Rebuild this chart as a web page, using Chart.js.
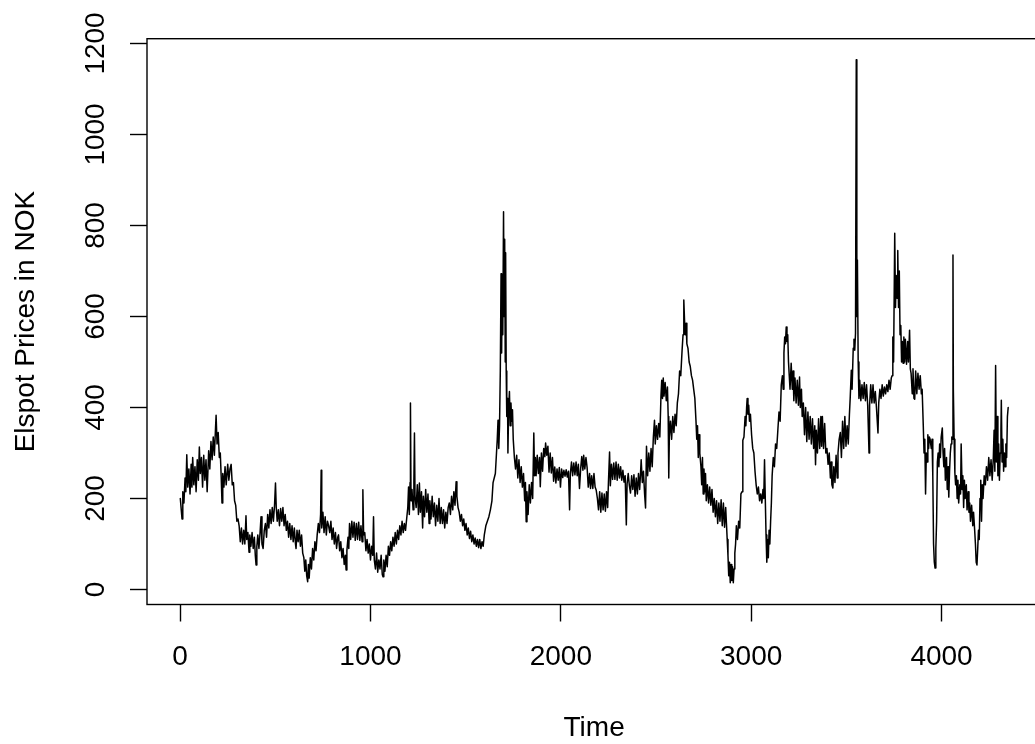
<!DOCTYPE html>
<html>
<head>
<meta charset="utf-8">
<script src="https://cdn.jsdelivr.net/npm/chart.js@4.4.1/dist/chart.umd.min.js"></script>
<style>
html, body { margin:0; padding:0; background:#ffffff; overflow:hidden; width:1035px; height:744px; }
#wrap { position:absolute; left:0; top:0; width:1060px; height:744px; }
</style>
</head>
<body>
<div id="wrap"><canvas id="c" width="1060" height="744"></canvas></div>
<script>
// ---- data ----
const timeIndex = [
1,6,10,14,20,26,30,35,40,46,
52,58,62,66,72,78,84,90,96,101,
106,112,118,124,130,136,142,150,156,162,
168,174,180,186,189,194,200,206,211,216,
220,224,230,236,242,250,256,262,268,274,
280,286,292,298,304,310,316,322,328,334,
340,346,350,356,362,366,372,378,384,390,
395,399,403,408,414,420,425,430,436,442,
448,454,460,466,472,478,484,490,496,501,
505,510,516,522,528,534,540,546,552,558,
564,570,576,582,588,594,600,606,609,614,
620,626,632,638,644,650,655,660,665,670,
674,678,684,690,696,702,708,714,720,726,
732,738,741,744,750,756,762,768,774,780,
786,792,798,804,810,816,822,828,832,838,
844,850,856,862,868,872,876,882,886,890,
896,902,908,914,920,926,932,938,944,950,
956,960,964,970,976,982,988,994,1000,1006,
1012,1016,1020,1026,1032,1038,1044,1050,1056,1062,
1066,1070,1076,1082,1088,1094,1100,1106,1112,1118,
1124,1130,1136,1142,1148,1154,1160,1166,1172,1178,
1184,1190,1196,1200,1204,1208,1210,1213,1218,1224,
1228,1231,1234,1240,1246,1252,1257,1262,1268,1274,
1278,1284,1290,1296,1302,1308,1312,1318,1324,1330,
1336,1342,1348,1354,1360,1366,1372,1378,1384,1390,
1396,1402,1408,1414,1420,1426,1432,1438,1444,1450,
1454,1460,1466,1472,1478,1484,1490,1496,1502,1508,
1514,1520,1526,1532,1538,1544,1550,1556,1562,1568,
1574,1580,1586,1592,1598,1606,1614,1622,1630,1638,
1644,1650,1656,1662,1666,1670,1674,1678,1682,1686,
1689,1692,1695,1699,1702,1705,1708,1710,1713,1716,
1720,1722,1726,1730,1734,1738,1742,1746,1750,1756,
1762,1768,1774,1780,1786,1792,1798,1804,1810,1814,
1818,1822,1828,1834,1840,1846,1852,1858,1862,1866,
1870,1876,1882,1888,1892,1898,1904,1910,1916,1920,
1926,1932,1938,1944,1950,1956,1962,1968,1974,1980,
1986,1992,1998,2004,2010,2016,2022,2028,2034,2040,
2046,2050,2056,2062,2068,2074,2080,2086,2092,2098,
2104,2110,2116,2120,2126,2132,2138,2144,2151,2156,
2162,2168,2174,2180,2186,2192,2198,2204,2210,2216,
2222,2228,2234,2240,2246,2250,2256,2260,2266,2272,
2278,2284,2290,2296,2302,2308,2314,2320,2326,2332,
2338,2344,2348,2354,2360,2366,2372,2378,2384,2390,
2396,2402,2408,2414,2418,2422,2428,2434,2440,2445,
2450,2456,2462,2468,2474,2480,2486,2492,2496,2502,
2508,2514,2520,2526,2530,2534,2538,2542,2548,2554,
2560,2564,2567,2570,2576,2582,2588,2594,2600,2606,
2612,2618,2624,2630,2637,2642,2646,2650,2654,2658,
2662,2668,2674,2680,2686,2692,2698,2704,2710,2714,
2718,2722,2726,2730,2736,2740,2744,2748,2752,2756,
2760,2764,2770,2776,2782,2788,2794,2800,2806,2812,
2818,2824,2830,2836,2842,2848,2854,2860,2866,2870,
2874,2878,2882,2886,2890,2894,2898,2902,2906,2910,
2914,2918,2922,2928,2934,2940,2946,2952,2956,2962,
2968,2972,2976,2979,2983,2987,2991,2996,3002,3008,
3014,3020,3026,3032,3038,3044,3050,3056,3062,3066,
3070,3074,3078,3082,3086,3090,3094,3098,3102,3106,
3110,3116,3122,3128,3134,3140,3146,3152,3158,3164,
3168,3172,3176,3180,3184,3188,3192,3196,3200,3204,
3210,3216,3220,3224,3230,3236,3242,3248,3254,3258,
3264,3268,3274,3280,3286,3292,3298,3304,3310,3316,
3322,3328,3334,3338,3342,3348,3354,3360,3366,3370,
3374,3380,3386,3392,3398,3404,3410,3416,3420,3424,
3429,3434,3440,3446,3452,3456,3462,3468,3474,3480,
3486,3492,3498,3504,3510,3516,3520,3526,3530,3536,
3540,3544,3548,3552,3555,3558,3562,3566,3570,3576,
3582,3588,3594,3600,3606,3612,3619,3622,3628,3634,
3640,3646,3652,3658,3666,3670,3676,3682,3688,3694,
3700,3706,3712,3718,3724,3730,3736,3740,3744,3748,
3754,3758,3762,3766,3770,3774,3778,3782,3786,3790,
3794,3798,3802,3806,3810,3816,3822,3826,3832,3836,
3840,3846,3850,3855,3859,3864,3870,3876,3882,3888,
3894,3898,3904,3908,3912,3916,3920,3924,3928,3932,
3936,3940,3946,3950,3954,3958,3962,3966,3970,3974,
3978,3982,3986,3990,3994,3998,4004,4008,4012,4016,
4020,4026,4030,4034,4038,4042,4046,4050,4054,4058,
4060,4062,4066,4070,4074,4078,4082,4086,4090,4096,
4100,4103,4108,4112,4116,4120,4124,4130,4134,4140,
4144,4148,4152,4158,4164,4168,4174,4178,4182,4186,
4190,4194,4198,4202,4206,4210,4214,4218,4224,4230,
4236,4242,4248,4254,4260,4266,4272,4276,4280,4284,
4288,4292,4296,4300,4304,4308,4312,4314,4318,4322,
4326,4330,4334,4338,4342,4346,4350
];
const priceNOK = [
200,175,155,215,190,245,215,296,225,265,
210,275,225,290,230,270,215,285,240,313,
255,290,225,295,240,285,215,305,265,325,
285,335,295,355,383,320,345,290,300,245,
190,255,225,270,230,275,240,265,275,230,
235,195,185,150,155,140,105,135,100,130,
100,162,110,125,82,120,95,125,90,115,
75,54,95,120,90,125,160,100,90,130,
145,115,165,135,175,145,180,150,185,234,
180,150,175,140,178,150,180,140,165,130,
150,115,145,110,140,105,135,100,90,130,
105,130,95,120,80,70,40,65,30,17,
55,25,70,45,90,65,105,85,120,145,
125,165,262,135,170,125,160,120,150,140,
125,150,110,135,100,125,90,115,120,85,
105,70,90,55,75,43,85,115,90,145,
110,150,115,148,108,145,110,148,108,140,
105,219,120,125,85,110,80,100,65,95,
75,160,65,45,80,38,65,45,75,33,
28,65,40,75,50,95,75,105,85,115,
95,125,100,130,110,140,120,150,125,145,
130,155,180,225,165,235,410,195,220,175,
235,344,205,180,230,165,234,170,215,135,
205,160,220,170,210,145,195,155,205,160,
190,140,185,150,200,145,180,145,175,135,
170,145,180,190,165,205,175,215,185,237,
205,180,170,150,165,140,155,130,145,120,
135,112,128,105,120,100,113,95,110,92,
110,90,105,95,120,140,150,160,175,195,
235,245,255,300,330,372,310,360,480,694,
520,690,560,830,600,770,500,740,480,380,
420,300,400,435,360,410,370,395,330,290,
265,295,245,285,235,270,225,255,195,235,
149,215,165,230,190,235,200,344,250,290,
250,295,255,290,226,300,260,310,292,322,
295,315,258,300,256,290,238,269,234,265,
240,268,225,265,246,262,249,263,247,260,
175,255,280,250,278,252,280,250,275,222,
265,292,262,295,265,290,268,225,255,222,
250,222,255,225,218,200,175,215,170,212,
175,210,172,215,180,235,302,228,275,242,
278,242,280,240,275,245,270,240,262,236,
250,142,232,255,228,212,250,220,252,205,
245,210,255,220,250,285,235,260,210,179,
315,250,300,260,310,270,335,372,320,360,
330,365,335,425,460,420,465,425,455,415,
445,380,245,335,370,330,380,345,385,360,
410,430,480,470,526,560,636,590,560,585,
540,530,500,490,470,460,440,420,370,330,
360,290,340,300,270,230,290,210,265,215,
255,195,230,190,225,185,220,170,200,160,
195,145,190,150,197,140,190,137,180,145,
110,75,30,60,15,55,20,50,15,45,
80,100,140,110,150,135,210,215,328,335,
380,360,400,420,385,405,370,385,340,310,
300,260,230,210,225,195,210,190,220,200,
285,200,120,60,110,70,130,100,150,190,
250,290,270,320,310,350,390,370,450,470,
440,520,555,540,577,545,560,500,470,440,
497,440,480,415,465,410,460,405,467,400,
440,380,410,340,400,325,390,330,380,320,
375,310,360,274,350,300,375,310,380,315,
380,310,365,300,310,275,300,245,280,230,
223,270,235,295,245,300,330,345,290,370,
310,380,315,360,320,385,420,482,440,530,
550,526,563,1164,600,724,500,420,460,415,
450,420,455,415,450,405,300,405,450,410,
450,410,435,400,344,410,440,420,450,425,
445,430,450,435,460,440,465,470,555,500,
783,620,690,640,745,620,700,560,580,500,
545,497,555,500,550,495,545,500,570,485,
475,430,485,420,418,480,430,475,440,470,
430,440,360,300,330,210,300,280,340,310,
335,330,310,330,250,100,60,47,90,150,
280,300,270,320,290,335,355,300,270,310,
240,290,220,270,203,260,300,320,335,330,
735,440,330,256,230,250,200,240,190,230,
210,320,220,250,180,240,200,230,175,215,
170,190,150,185,140,170,130,100,60,54,
90,130,110,200,240,150,230,200,250,230,
270,240,290,250,285,240,290,350,260,492,
280,380,250,320,240,300,350,416,280,330,
260,300,270,320,290,380,400
];
const xTickValues = [0, 1000, 2000, 3000, 4000];
const yTickValues = [0, 200, 400, 600, 800, 1000, 1200];
const xAxisTitle = 'Time';
const yAxisTitle = 'Elspot Prices in NOK';

if (timeIndex.length !== priceNOK.length) console.error('length mismatch', timeIndex.length, priceNOK.length);

const points = timeIndex.map((t, i) => ({ x: t, y: priceNOK[i] }));
const FONT = { family: '"Liberation Sans", Arial, sans-serif', size: 28, weight: 'normal' };

const boxPlugin = {
  id: 'rbox',
  afterDraw(chart) {
    const { ctx, chartArea: a } = chart;
    ctx.save();
    ctx.strokeStyle = '#000';
    ctx.lineWidth = 1.4;
    ctx.strokeRect(a.left, a.top, a.right - a.left, a.bottom - a.top);
    ctx.restore();
  }
};

const gridOpts = { drawOnChartArea: false, drawTicks: true, tickLength: 17, tickColor: '#000', tickWidth: 1.4 };

new Chart(document.getElementById('c'), {
  type: 'line',
  data: {
    datasets: [{
      data: points,
      borderColor: '#000',
      borderWidth: 1.5,
      pointRadius: 0,
      tension: 0,
      fill: false,
      borderJoinStyle: 'round',
      borderCapStyle: 'round'
    }]
  },
  options: {
    responsive: false,
    animation: false,
    devicePixelRatio: 1,
    layout: { padding: { left: 0, top: 38.7, right: 18.7, bottom: 0 } },
    plugins: { legend: { display: false }, tooltip: { enabled: false } },
    scales: {
      x: {
        type: 'linear',
        min: -174,
        max: 4524,
        afterBuildTicks(s) { s.ticks = xTickValues.map(v => ({ value: v })); },
        afterFit(s) { s.height = 139.5; },
        grid: gridOpts,
        border: { display: false },
        ticks: { color: '#000', font: FONT, padding: 19, maxRotation: 0, autoSkip: false, callback: v => String(v) },
        title: { display: true, text: xAxisTitle, color: '#000', font: FONT, padding: { top: 0, bottom: -1 } }
      },
      y: {
        type: 'linear',
        min: -33,
        max: 1210.5,
        afterBuildTicks(s) { s.ticks = yTickValues.map(v => ({ value: v })); },
        afterFit(s) { s.width = 147; },
        grid: gridOpts,
        border: { display: false },
        ticks: { color: '#000', font: FONT, padding: 3, minRotation: 90, maxRotation: 90, crossAlign: 'center', autoSkip: false, callback: v => String(v) },
        title: { display: true, text: yAxisTitle, color: '#000', font: FONT, padding: { top: 9, bottom: 0 } }
      }
    }
  },
  plugins: [boxPlugin]
});
</script>
</body>
</html>
